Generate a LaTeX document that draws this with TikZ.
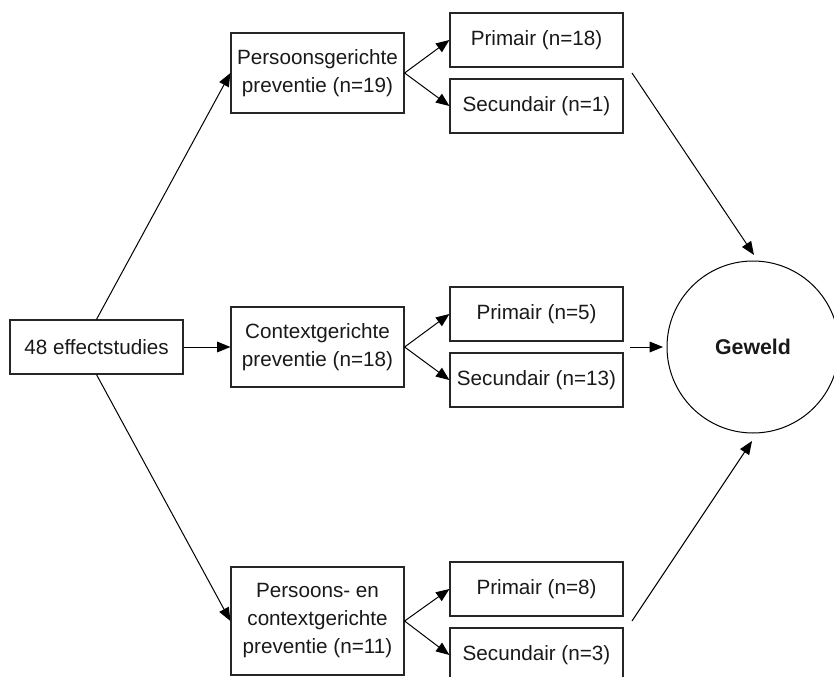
\documentclass[tikz,border=0pt]{standalone}
\usepackage{fontspec}
\setmainfont{Liberation Sans}
\usepackage{tikz}
\usetikzlibrary{arrows.meta}

\tikzset{
  box/.style={draw=black!85, line width=0.9pt, inner sep=0pt, align=center,
    minimum width=129.75pt, minimum height=40.5pt, text=black!90,
    font=\fontsize{15.5}{21}\selectfont},
  arr/.style={line width=0.75pt, -{Triangle[length=10pt,width=8pt]}}
}

\begin{document}
\begin{tikzpicture}[x=0.75pt,y=0.75pt,yscale=-1,xscale=1]
\useasboundingbox (0,0) rectangle (834,677);
\clip (0,0) rectangle (834,677);

% Start node
\node [box] (start) at (96.5,347) {48 effectstudies};

% Preventie types
\node [box, minimum height=60pt] (pers) at (317.5,73) {Persoonsgerichte\\preventie (n=19)};
\node [box, minimum height=60pt] (ctx) at (317.5,347) {Contextgerichte\\preventie (n=18)};
\node [box, minimum height=81pt] (both) at (317.5,621) {Persoons- en\\contextgerichte\\preventie (n=11)};

% Primair / secundair
\node [box] (prim1) at (536.5,40) {Primair (n=18)};
\node [box] (sec1) at (536.5,106) {Secundair (n=1)};
\node [box] (prim2) at (536.5,314) {Primair (n=5)};
\node [box] (sec2) at (536.5,380) {Secundair (n=13)};
\node [box] (prim3) at (536.5,589) {Primair (n=8)};
\node [box] (sec3) at (536.5,655) {Secundair (n=3)};

% Outcome
\node [draw=black, line width=0.75pt, circle, minimum size=129pt, inner sep=0pt,
  font=\fontsize{16}{21}\selectfont\bfseries, text=black!90] (geweld) at (753,347) {Geweld};

% free ends of the arrows to the outcome
\coordinate (out1) at (632,73);
\coordinate (in1) at (754,255);
\coordinate (out2) at (630,347);
\coordinate (in2) at (663,347);
\coordinate (out3) at (632,621);
\coordinate (in3) at (752,441);

% Arrows
\draw [arr] (start.north) -- (pers.west);
\draw [arr] (start.east) -- (ctx.west);
\draw [arr] (start.south) -- (both.west);

\draw [arr] (pers.east) -- (prim1.west);
\draw [arr] (pers.east) -- (sec1.west);
\draw [arr] (ctx.east) -- (prim2.west);
\draw [arr] (ctx.east) -- (sec2.west);
\draw [arr] (both.east) -- (prim3.west);
\draw [arr] (both.east) -- (sec3.west);

\draw [arr] (out1) -- (in1);
\draw [arr] (out2) -- (in2);
\draw [arr] (out3) -- (in3);

\end{tikzpicture}
\end{document}
